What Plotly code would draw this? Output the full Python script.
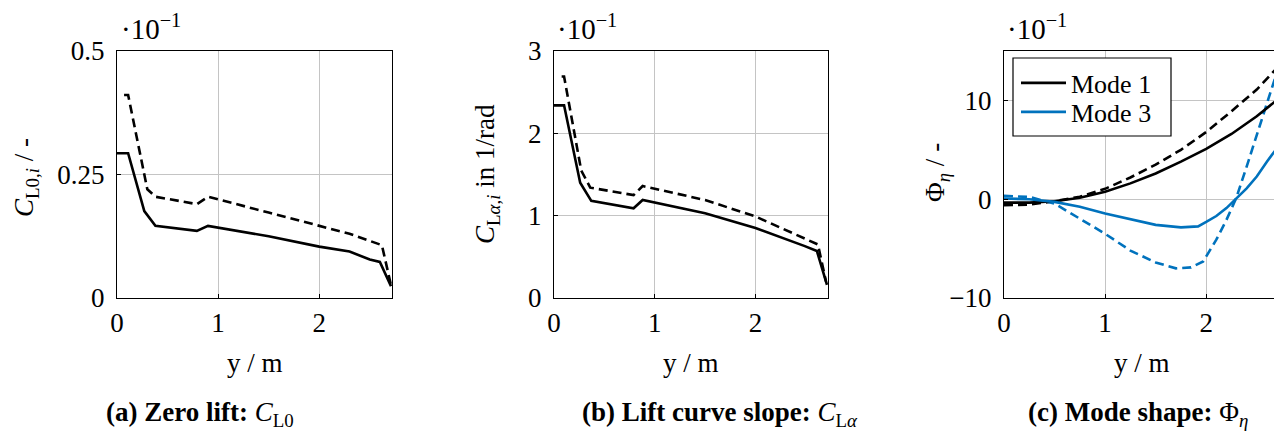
import plotly.graph_objects as go

# ---------------- data ----------------
# (a) zero lift C_L0 (values in 1e-1)
cl0_solid_x = [0, 0.11, 0.27, 0.38, 0.79, 0.90, 1.5, 2.0, 2.3, 2.50, 2.60, 2.71]
cl0_solid_y = [0.293, 0.293, 0.176, 0.146, 0.136, 0.146, 0.125, 0.104, 0.094, 0.078, 0.073, 0.024]
cl0_dash_x = [0.07, 0.11, 0.30, 0.38, 0.79, 0.90, 1.5, 2.0, 2.3, 2.62, 2.71]
cl0_dash_y = [0.411, 0.411, 0.220, 0.205, 0.190, 0.205, 0.173, 0.147, 0.130, 0.107, 0.026]

# (b) lift curve slope C_Lalpha (values in 1e-1)
cla_solid_x = [0, 0.10, 0.26, 0.37, 0.79, 0.88, 1.5, 2.0, 2.49, 2.61, 2.71]
cla_solid_y = [2.34, 2.34, 1.40, 1.18, 1.09, 1.19, 1.03, 0.85, 0.63, 0.57, 0.16]
cla_dash_x = [0.076, 0.10, 0.27, 0.36, 0.79, 0.88, 1.5, 2.0, 2.62, 2.70]
cla_dash_y = [2.69, 2.69, 1.55, 1.34, 1.25, 1.36, 1.19, 0.99, 0.65, 0.20]

# (c) mode shapes (values in 1e-1)
m1_x = [0, 0.25, 0.5, 0.75, 1.0, 1.25, 1.5, 1.75, 2.0, 2.25, 2.5, 2.72]
m1_solid_y = [-0.35, -0.35, -0.2, 0.15, 0.75, 1.6, 2.6, 3.8, 5.1, 6.6, 8.4, 10.2]
m1_dash_y = [-0.6, -0.55, -0.2, 0.25, 1.05, 2.2, 3.5, 5.0, 6.8, 8.9, 11.1, 13.5]
m3_solid_x = [0, 0.25, 0.5, 0.75, 1.0, 1.25, 1.5, 1.75, 1.92, 2.0, 2.1, 2.2, 2.3, 2.4, 2.5, 2.6, 2.72]
m3_solid_y = [0.07, 0.0, -0.27, -0.77, -1.45, -2.05, -2.6, -2.85, -2.75, -2.3, -1.7, -0.9, 0.07, 1.1, 2.3, 3.8, 5.45]
m3_dash_x = [0, 0.25, 0.5, 0.75, 1.0, 1.25, 1.5, 1.7, 1.85, 1.97, 2.1, 2.2, 2.3, 2.4, 2.5, 2.6, 2.72]
m3_dash_y = [0.34, 0.23, -0.45, -1.95, -3.5, -5.2, -6.4, -7.0, -6.9, -6.3, -4.1, -2.1, 0.2, 3.3, 6.5, 9.9, 13.5]

x_ticks = [0, 1, 2]
x_labels = ["0", "1", "2"]
y1_ticks = [0, 0.25, 0.5]
y1_labels = ["0", "0.25", "0.5"]
y2_ticks = [0, 1, 2, 3]
y2_labels = ["0", "1", "2", "3"]
y3_ticks = [-10, 0, 10]
y3_labels = ["\u221210", "0", "10"]

# ---------------- style ----------------
OFF = 8                      # default page margin of the html body
W, H = 1282 - OFF, 436 - OFF
FONT = "Liberation Serif"
FS = 27
BLACK = "black"
BLUE = "rgb(0,114,189)"
LW = 2.6
DASH = "9px,5px"

fig = go.Figure()

def add(x, y, color, dash, xa, ya, name=None, legend=None):
    kw = dict(showlegend=False)
    if legend:
        kw = dict(showlegend=True, legend=legend)
    fig.add_trace(go.Scatter(
        x=x, y=y, mode="lines", xaxis=xa, yaxis=ya,
        line=dict(color=color, width=LW, dash=dash),
        name=name, **kw))

add(cl0_dash_x, cl0_dash_y, BLACK, DASH, "x", "y")
add(cl0_solid_x, cl0_solid_y, BLACK, "solid", "x", "y")
add(cla_dash_x, cla_dash_y, BLACK, DASH, "x2", "y2")
add(cla_solid_x, cla_solid_y, BLACK, "solid", "x2", "y2")
add(m1_x, m1_dash_y, BLACK, DASH, "x3", "y3")
add(m3_dash_x, m3_dash_y, BLUE, DASH, "x3", "y3")
add(m1_x, m1_solid_y, BLACK, "solid", "x3", "y3", "Mode 1", "legend")
add(m3_solid_x, m3_solid_y, BLUE, "solid", "x3", "y3", "Mode 3", "legend2")

def px_x(p):
    return (p - OFF) / W

def px_y(p):
    return 1 - (p - OFF) / H

ydom = [px_y(298), px_y(51)]
xdoms = [[px_x(117), px_x(392)], [px_x(554), px_x(828)], [px_x(1004), px_x(1279)]]

def axis(**kw):
    d = dict(
        showline=True, linecolor="black", linewidth=1.2, mirror=True,
        showgrid=True, gridcolor="#c4c4c4", gridwidth=1,
        zeroline=False, ticks="inside", ticklen=4, tickcolor="black",
        tickfont=dict(family=FONT, size=FS, color="black"),
        automargin=False, tickmode="array",
    )
    d.update(kw)
    return d

yinfo = [(y1_ticks, y1_labels, [0, 0.5]), (y2_ticks, y2_labels, [0, 3]), (y3_ticks, y3_labels, [-10, 15])]
lay = {}
for i in range(3):
    sfx = "" if i == 0 else str(i + 1)
    tv, tt, rg = yinfo[i]
    lay["xaxis" + sfx] = axis(domain=xdoms[i], range=[0, 2.72], tickvals=x_ticks,
                              ticktext=x_labels, anchor="y" + sfx)
    lay["yaxis" + sfx] = axis(domain=ydom, range=rg, tickvals=tv, ticktext=tt,
                              anchor="x" + sfx, ticklabelstandoff=6)

ann = []

def text(x, y, s, size=FS, angle=0, xanchor="center", yanchor="middle"):
    ann.append(dict(x=px_x(x), y=px_y(y), xref="paper", yref="paper", text=s,
                    showarrow=False, textangle=angle, xanchor=xanchor, yanchor=yanchor,
                    font=dict(family=FONT, size=size, color="black")))

# exponent labels
for xl in [119, 555, 1005]:
    text(xl, 27, "\u00b710<sup>\u22121</sup>", size=29, xanchor="left")

# y titles
text(26, 178, "<i>C</i><sub>L0,<i>i</i></sub> / -", angle=-90)
text(487, 174, "<i>C</i><sub>L<i>\u03b1</i>,<i>i</i></sub> in 1/rad", angle=-90)
text(937, 172, "\u03a6<sub><i>\u03b7</i></sub> / -", angle=-90)

# x titles
for xc in [255, 691, 1142]:
    text(xc, 363, "y / m")

# captions
text(200, 414, "<b>(a) Zero lift:</b> <i>C</i><sub>L0</sub>")
text(720, 414, "<b>(b) Lift curve slope:</b> <i>C</i><sub>L<i>\u03b1</i></sub>")
text(1138, 414, "<b>(c) Mode shape:</b> \u03a6<sub><i>\u03b7</i></sub>")

# legend frame
shapes = [dict(type="rect", xref="paper", yref="paper",
               x0=px_x(1013), x1=px_x(1171), y0=px_y(136), y1=px_y(58),
               line=dict(color="black", width=1.2), fillcolor="white", layer="above")]

leg_common = dict(xanchor="left", yanchor="middle", bgcolor="rgba(0,0,0,0)",
                  borderwidth=0, itemwidth=45,
                  font=dict(family=FONT, size=26, color="black"))

fig.update_layout(
    template="none",
    width=W, height=H, autosize=False, margin=dict(l=0, r=0, t=0, b=0, pad=0),
    paper_bgcolor="white", plot_bgcolor="white",
    font=dict(family=FONT, size=FS, color="black"),
    annotations=ann, shapes=shapes,
    legend=dict(leg_common, x=px_x(1016), y=px_y(83)),
    legend2=dict(leg_common, x=px_x(1016), y=px_y(112)),
    **lay,
)

fig.write_html("out.html")
